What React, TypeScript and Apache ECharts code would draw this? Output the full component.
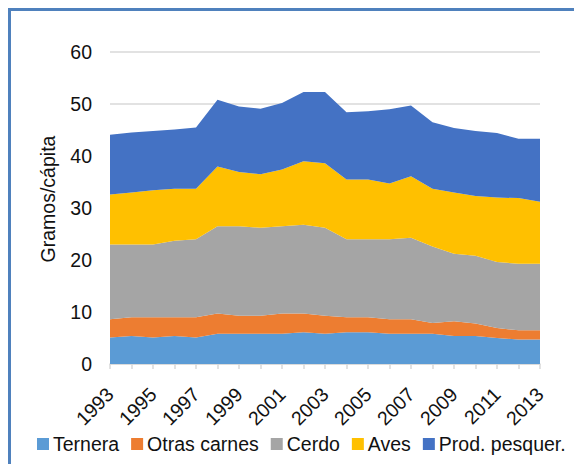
import React, { useEffect, useRef } from "react";
import * as echarts from "echarts";

const years = ["1993","1994","1995","1996","1997","1998","1999","2000","2001","2002","2003","2004","2005","2006","2007","2008","2009","2010","2011","2012","2013"];
const ternera = [5.1,5.4,5.1,5.4,5.1,5.8,5.8,5.8,5.8,6.1,5.8,6.1,6.1,5.8,5.8,5.8,5.4,5.4,5.0,4.7,4.7];
const otrasCarnes = [3.5,3.6,3.9,3.6,3.9,3.9,3.5,3.5,3.9,3.6,3.5,2.9,2.9,2.8,2.8,2.1,2.8,2.4,1.9,1.8,1.8];
const cerdo = [14.4,14.0,14.0,14.7,15.0,16.8,17.2,16.9,16.8,17.1,16.9,15.0,15.0,15.4,15.7,14.7,13.0,13.0,12.7,12.8,12.8];
const aves = [9.6,10.0,10.4,10.0,9.7,11.5,10.4,10.3,10.9,12.2,12.4,11.5,11.5,10.7,11.8,11.1,11.8,11.5,12.4,12.6,11.9];
const prodPesquer = [11.5,11.5,11.4,11.4,11.8,12.8,12.6,12.6,12.8,13.3,13.7,12.9,13.1,14.3,13.6,12.8,12.4,12.5,12.4,11.4,12.1];

const seriesNames = ["Ternera", "Otras carnes", "Cerdo", "Aves", "Prod. pesquer."];
const seriesData = [ternera, otrasCarnes, cerdo, aves, prodPesquer];
const colors = ["#5B9BD5", "#ED7D31", "#A5A5A5", "#FFC000", "#4472C4"];

const FONT = "'Liberation Sans', Arial, sans-serif";
const FS = 19.5;

export default function App() {
  const ref = useRef<HTMLDivElement>(null);
  useEffect(() => {
    if (!ref.current) return;
    const chart = echarts.init(ref.current, null, { renderer: "svg" });
    chart.setOption({
      animation: false,
      color: colors,
      textStyle: { fontFamily: FONT },
      grid: { left: 110, right: 34, top: 52, bottom: 100 },
      legend: {
        left: 32,
        top: 429,
        icon: "rect",
        itemWidth: 12,
        itemHeight: 12,
        itemGap: 12,
        textStyle: { fontSize: FS, color: "#111", fontFamily: FONT, padding: [0, 0, 0, -1] },
        data: seriesNames,
      },
      xAxis: {
        type: "category",
        data: years,
        boundaryGap: false,
        axisLine: { lineStyle: { color: "#D9D9D9", width: 1.5 } },
        axisTick: { show: true, length: 5, interval: 0, lineStyle: { color: "#D9D9D9", width: 1.5 } },
        axisLabel: { interval: 1, rotate: 45, fontSize: FS, color: "#111", margin: 27, fontFamily: FONT },
      },
      yAxis: {
        type: "value",
        min: 0,
        max: 60,
        interval: 10,
        axisLine: { show: false },
        axisTick: { show: false },
        axisLabel: { fontSize: FS, color: "#111", margin: 18, fontFamily: FONT },
        splitLine: { lineStyle: { color: "#D9D9D9", width: 1.5 } },
      },
      graphic: [
        {
          type: "text",
          x: 48,
          y: 199,
          rotation: Math.PI / 2,
          style: {
            text: "Gramos/cápita",
            fontSize: FS,
            fontFamily: FONT,
            fill: "#111",
            textAlign: "center",
            textVerticalAlign: "middle",
          },
        },
      ],
      series: seriesNames.map((name, i) => ({
        name,
        type: "line",
        stack: "total",
        data: seriesData[i],
        symbol: "none",
        lineStyle: { width: 0 },
        areaStyle: { color: colors[i], opacity: 1 },
        itemStyle: { color: colors[i] },
      })),
    });
    return () => chart.dispose();
  }, []);

  return (
    <div style={{ position: "fixed", left: 0, top: 0, width: 574, height: 464, overflow: "hidden", background: "#fff" }}>
      <div
        style={{
          position: "absolute",
          left: 8,
          top: 8,
          width: 700,
          height: 600,
          border: "3px solid #4F81BD",
          boxSizing: "border-box",
        }}
      />
      <div ref={ref} style={{ position: "absolute", left: 0, top: 0, width: 574, height: 464 }} />
    </div>
  );
}
